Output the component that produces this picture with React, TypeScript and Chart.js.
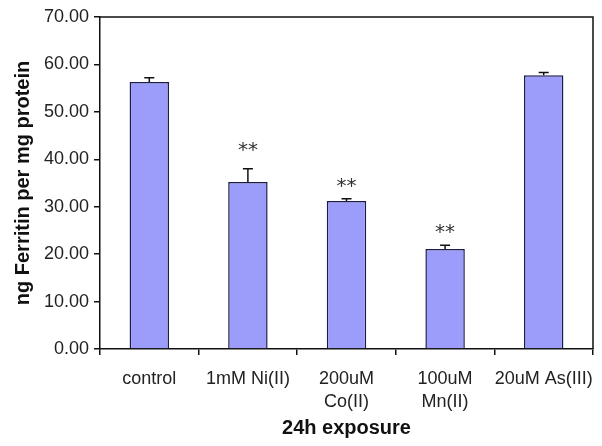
import React, { useEffect, useRef } from "react";
import { Chart, registerables } from "chart.js";

Chart.register(...registerables);

const categories: (string | string[])[] = [
  "control",
  "1mM Ni(II)",
  ["200uM", "Co(II)"],
  ["100uM", "Mn(II)"],
  "20uM As(III)",
];
const means = [56.3, 35.2, 31.2, 21.1, 57.7];
const errors = [0.9, 2.8, 0.5, 0.8, 0.6];
const starLevels: (number | null)[] = [null, 42.6, 35.0, 25.3, null];
const starText = "**";
const yTitle = "ng Ferritin per mg protein";
const xTitle = "24h exposure";

const overlayPlugin = {
  id: "overlay",
  afterDatasetsDraw(chart: any) {
    const ctx = chart.ctx;
    const x = chart.scales.x;
    const y = chart.scales.y;
    const meta = chart.getDatasetMeta(0);
    ctx.save();
    ctx.strokeStyle = "#111";
    ctx.lineWidth = 1.5;
    means.forEach((m, i) => {
      const bar = meta.data[i];
      const cx = bar.x;
      const y0 = y.getPixelForValue(m);
      const y1 = y.getPixelForValue(m + errors[i]);
      ctx.beginPath();
      ctx.moveTo(cx, y0);
      ctx.lineTo(cx, y1);
      ctx.moveTo(cx - 5, y1);
      ctx.lineTo(cx + 5, y1);
      ctx.stroke();
    });
    ctx.fillStyle = "#333";
    ctx.font = "20px 'DejaVu Sans'";
    ctx.textAlign = "center";
    ctx.textBaseline = "middle";
    starLevels.forEach((s, i) => {
      if (s === null) return;
      const cx = x.getPixelForValue(i);
      ctx.fillText(starText, cx, y.getPixelForValue(s) + 4);
    });
    const a = chart.chartArea;
    ctx.strokeStyle = "#111";
    ctx.lineWidth = 1.5;
    ctx.beginPath();
    ctx.moveTo(a.left, a.top);
    ctx.lineTo(a.right, a.top);
    ctx.lineTo(a.right, a.bottom);
    ctx.stroke();
    ctx.restore();
  },
};

export default function App() {
  const ref = useRef<HTMLCanvasElement>(null);
  useEffect(() => {
    if (!ref.current) return;
    const chart = new Chart(ref.current, {
      type: "bar",
      data: {
        labels: categories as any,
        datasets: [
          {
            data: means,
            backgroundColor: "#9c9cfa",
            borderColor: "#1c1c48",
            borderWidth: 1.5,
            barPercentage: 0.8,
            categoryPercentage: 0.5,
          },
        ],
      },
      options: {
        animation: false,
        responsive: false,
        maintainAspectRatio: false,
        layout: { padding: { left: 0, right: 9, top: 17, bottom: 0 } },
        plugins: { legend: { display: false }, tooltip: { enabled: false } },
        scales: {
          x: {
            afterFit: (s: any) => {
              s.height = 97;
              s.paddingLeft = 0;
              s.paddingRight = 0;
            },
            grid: {
              display: true,
              drawOnChartArea: false,
              drawTicks: true,
              tickLength: 6,
              offset: true,
              color: "#111",
              lineWidth: 1.5,
            },
            border: { display: true, color: "#111", width: 1.5 },
            ticks: {
              color: "#222",
              font: { family: "'Liberation Sans', Arial", size: 18, lineHeight: 1.3 },
              padding: 12,
              maxRotation: 0,
              autoSkip: false,
            },
            title: {
              display: true,
              text: xTitle,
              color: "#111",
              font: { family: "'Liberation Sans', Arial", size: 20, weight: "bold" },
              padding: { top: 4, bottom: 6 },
            },
          },
          y: {
            min: 0,
            max: 70,
            afterFit: (s: any) => {
              s.width = 100;
              s.paddingTop = 0;
              s.paddingBottom = 0;
            },
            grid: {
              display: true,
              drawOnChartArea: false,
              drawTicks: true,
              tickLength: 6,
              color: "#111",
              lineWidth: 1.5,
            },
            border: { display: true, color: "#111", width: 1.5 },
            ticks: {
              stepSize: 10,
              color: "#222",
              font: { family: "'Liberation Sans', Arial", size: 18 },
              padding: 5,
              callback: (v: any) => Number(v).toFixed(2),
            },
            title: {
              display: true,
              text: yTitle,
              color: "#111",
              font: { family: "'Liberation Sans', Arial", size: 20, weight: "bold" },
              padding: { top: 11, bottom: 0 },
            },
          },
        },
      },
      plugins: [overlayPlugin],
    });
    return () => chart.destroy();
  }, []);
  return (
    <div style={{ position: "fixed", left: 0, top: 0, width: 602, height: 446, background: "#fff" }}>
      <canvas ref={ref} width={602} height={446} style={{ width: 602, height: 446 }} />
    </div>
  );
}
